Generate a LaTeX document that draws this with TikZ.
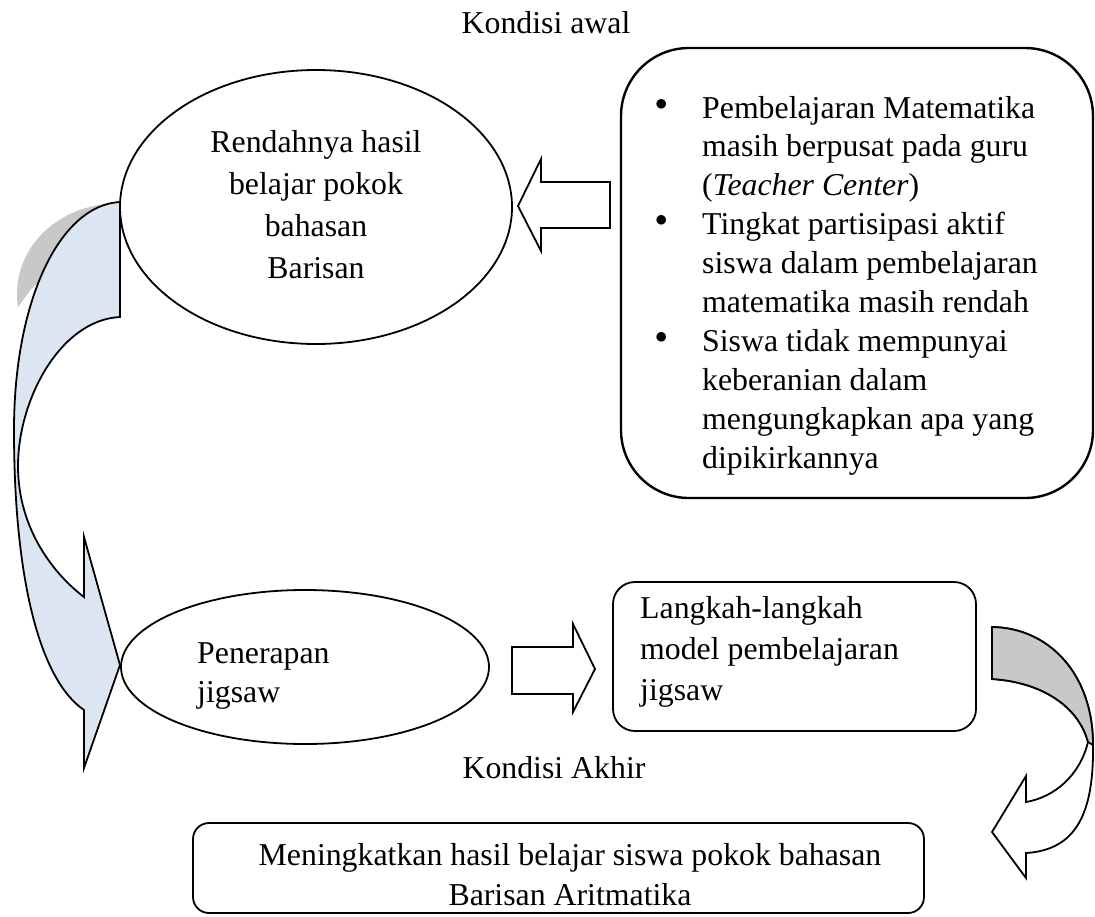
\documentclass[tikz,border=0pt]{standalone}
\usepackage{fontspec}
\setmainfont{Liberation Serif}
\usetikzlibrary{shapes.geometric}
\newcommand\myfont{\fontsize{31.8}{40}\selectfont}
\newcommand\mybul{\raisebox{8pt}{$\bullet$}}
\definecolor{arrowblue}{RGB}{220,230,242}
\definecolor{shadowgray}{RGB}{200,200,200}
\tikzset{
  outl/.style={draw=black, line width=1.8pt, line join=miter},
  txt/.style={inner sep=0pt, font=\myfont},
}
\begin{document}
\begin{tikzpicture}[x=1pt,y=-1pt]
\useasboundingbox (0,0) rectangle (1095,916);

% left curved arrow: grey back side, then blue front
\fill[shadowgray] (106,204) .. controls (50,210) and (10,255) .. (18,307) -- (32,288) -- (115,215) -- cycle;
\draw[outl, fill=arrowblue] (120,202) .. controls (60,205) and (14,300) .. (14,430)
   .. controls (14,580) and (40,680) .. (84,710) -- (84,768) -- (120,665) -- (84,537) -- (84,597)
   .. controls (55,575) and (18,530) .. (18,466) .. controls (18,400) and (60,320) .. (120,317) -- cycle;

% ellipses
\node[ellipse, outl, minimum width=392pt, minimum height=274pt, inner sep=0pt] (e1) at (316,207) {};
\node[txt, anchor=base] (e1t) at (316,152) {\fontsize{31.8}{42}\selectfont\begin{tabular}[t]{@{}c@{}}Rendahnya hasil\\belajar pokok\\bahasan\\Barisan\end{tabular}};

\node[ellipse, outl, minimum width=368pt, minimum height=154pt, inner sep=0pt] (e2) at (305,667) {};
\node[txt, anchor=base west] (e2t) at (197,663) {\fontsize{31.8}{39}\selectfont\begin{tabular}[t]{@{}l@{}}Penerapan\\jigsaw\end{tabular}};

% condition box (top right)
\node[outl, line width=2.4pt, rounded corners=68pt, minimum width=472pt, minimum height=450pt, inner sep=0pt] (box1) at (857,273) {};
\node[txt, anchor=base west] (list) at (655,118) {\fontsize{31.8}{38.9}\selectfont\begin{tabular}[t]{@{}p{47pt}@{}l@{}}
\mybul&Pembelajaran Matematika\\
&masih berpusat pada guru\\
&(\textit{Teacher Center})\\
\mybul&Tingkat partisipasi aktif\\
&siswa dalam pembelajaran\\
&matematika masih rendah\\
\mybul&Siswa tidak mempunyai\\
&keberanian dalam\\
&mengungkapkan apa yang\\
&dipikirkannya
\end{tabular}};

% steps box
\node[outl, rounded corners=22pt, minimum width=363pt, minimum height=149pt, inner sep=0pt] (box2) at (794.5,656.5) {};
\node[txt, anchor=base west] (box2t) at (640,618) {\fontsize{31.8}{41}\selectfont\begin{tabular}[t]{@{}l@{}}Langkah-langkah\\model pembelajaran\\jigsaw\end{tabular}};

% final box
\node[outl, rounded corners=16pt, minimum width=731pt, minimum height=90pt, inner sep=0pt] (box3) at (558.5,868) {};
\node[txt, anchor=base] (box3t) at (570,865) {\fontsize{31.8}{40}\selectfont\begin{tabular}[t]{@{}c@{}}Meningkatkan hasil belajar siswa pokok bahasan\\Barisan Aritmatika\end{tabular}};

% headings
\node[txt, anchor=base] (awal) at (546,33) {Kondisi awal};
\node[txt, anchor=base] (akhir) at (554,778) {Kondisi Akhir};

% block arrow pointing left (box1 -> e1)
\draw[outl] (610,182) -- (541,182) -- (541,159) -- (518,206) -- (541,251) -- (541,228) -- (610,228) -- cycle;

% block arrow pointing right (e2 -> box2)
\draw[outl] (512,647) -- (573,647) -- (573,624) -- (595,669) -- (573,712) -- (573,694) -- (512,694) -- cycle;

% right curved arrow (box2 -> box3)
\draw[outl, fill=white] (992,627) .. controls (1050,628) and (1093,675) .. (1093,745)
   .. controls (1094,815) and (1075,850) .. (1026,853) -- (1026,878) -- (992,832) -- (1026,776) -- (1026,802)
   .. controls (1055,797) and (1080,775) .. (1088,742) .. controls (1078,705) and (1040,682) .. (992,679) -- cycle;
\draw[outl, fill=shadowgray] (992,627) .. controls (1050,628) and (1093,675) .. (1093,745) -- (1088,742)
   .. controls (1078,705) and (1040,682) .. (992,679) -- cycle;
\end{tikzpicture}
\end{document}
